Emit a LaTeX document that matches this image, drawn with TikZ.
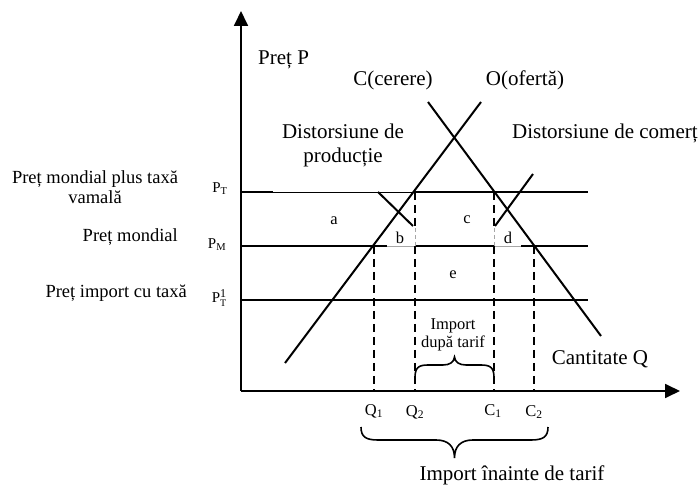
\documentclass[tikz,border=0pt]{standalone}
\usepackage{fontspec}
\setmainfont{Liberation Serif}
\usetikzlibrary{arrows.meta}
\newcommand\fbig{\fontsize{21}{24}\selectfont}
\newcommand\fmid{\fontsize{18.5}{20}\selectfont}
\newcommand\fsm{\fontsize{16.5}{18}\selectfont}
\newcommand\fpl{\fontsize{15}{17}\selectfont}
\begin{document}
\begin{tikzpicture}[x=1pt,y=-1pt,
  axis/.style={line width=1.8pt,-{Triangle[length=15pt,width=14pt]}},
  curve/.style={line width=2pt},
  level/.style={line width=1.5pt},
  thinblk/.style={line width=0.9pt},
  thinlvl/.style={line width=0.8pt,black!35},
  guide/.style={line width=1.6pt,dash pattern=on 8pt off 5pt},
  thinguide/.style={line width=0.8pt,black!35,dash pattern=on 4pt off 3pt},
  brace/.style={line width=1.6pt},
  big/.style={font=\fbig,inner sep=0pt,align=center},
  mid/.style={font=\fmid,inner sep=0pt,align=center},
  small/.style={font=\fsm,inner sep=0pt,align=center},
  plab/.style={font=\fpl,inner sep=0pt}]
\useasboundingbox (0,0) rectangle (699,486);

% axes
\coordinate (O) at (241,391);
\coordinate (Ytop) at (241,11);
\coordinate (Xend) at (680,391);
\draw[axis] (O) -- (Ytop);
\draw[axis] (O) -- (Xend);

% key points
\coordinate (T0) at (241,192);
\coordinate (Ta) at (273,192);
\coordinate (Q2T) at (415,192);
\coordinate (C1T) at (494,192);
\coordinate (TE) at (588,192);
\coordinate (M0) at (241,246);
\coordinate (Mg1) at (387,246);
\coordinate (Q1M) at (374,246);
\coordinate (Q2M) at (415,246);
\coordinate (C1M) at (494,246);
\coordinate (Mg2) at (521,246);
\coordinate (C2M) at (534,246);
\coordinate (ME) at (588,246);
\coordinate (I0) at (241,300);
\coordinate (IE) at (588,300);
\coordinate (Q1B) at (374,391);
\coordinate (Q2B) at (415,391);
\coordinate (C1B) at (494,391);
\coordinate (C2B) at (534,391);
\coordinate (Q2g) at (415,228);
\coordinate (C1g) at (494,228);

% price levels
\draw[level] (T0) -- (Ta);
\draw[thinblk] (Ta) -- (Q2T);
\draw[level] (Q2T) -- (TE);
\draw[level] (M0) -- (Mg1);
\draw[thinlvl] (Mg1) -- (Q2M);
\draw[level] (Q2M) -- (C1M);
\draw[thinlvl] (C1M) -- (Mg2);
\draw[level] (Mg2) -- (ME);
\draw[level] (I0) -- (IE);

% supply and demand
\coordinate (S0) at (285,363);
\coordinate (S1) at (481,102);
\coordinate (D0) at (428,102);
\coordinate (D1) at (601,336);
\draw[curve] (S0) -- (S1);
\draw[curve] (D0) -- (D1);

% distortion strokes
\coordinate (L0) at (378,192);
\coordinate (L1) at (413,226);
\coordinate (R0) at (495,226);
\coordinate (R1) at (533,174);
\draw[curve] (L0) -- (L1);
\draw[curve] (R0) -- (R1);

% dashed guides
\draw[guide] (Q2T) -- (Q2g);
\draw[thinguide] (Q2g) -- (Q2M);
\draw[guide] (Q2M) -- (Q2B);
\draw[guide] (C1T) -- (C1g);
\draw[thinguide] (C1g) -- (C1M);
\draw[guide] (C1M) -- (C1B);
\draw[guide] (Q1M) -- (Q1B);
\draw[guide] (C2M) -- (C2B);

% braces
\draw[brace] (415,378) .. controls (415,368) and (418,365) .. (428,365) -- (443,365)
  .. controls (450,365) and (454,362) .. (454.5,357)
  .. controls (455,362) and (459,365) .. (466,365) -- (481,365)
  .. controls (491,365) and (494,368) .. (494,378);
\draw[brace] (361,427) .. controls (361,437) and (366,440) .. (378,440) -- (436,440)
  .. controls (448,440) and (454.5,446) .. (454.5,458)
  .. controls (454.5,446) and (461,440) .. (473,440) -- (531,440)
  .. controls (543,440) and (548,437) .. (548,427);

% labels
\node[big,anchor=west] (pret) at (258,60) {Preț P};
\node[big] (cer) at (393,80) {C(cerere)};
\node[big] (ofe) at (525,80) {O(ofertă)};
\node[big] (dprod) at (343,145) {Distorsiune de\\producție};
\node[big,anchor=west] (dcom) at (512,133) {Distorsiune de comerț};
\node[big] (cant) at (600,359) {Cantitate Q};
\node[big] (impi) at (512,475) {Import înainte de tarif};
\node[small] (impd) at (453,335) {Import\\după tarif};

\node[mid] (lpt) at (95,187) {Preț mondial plus taxă\\vamală};
\node[mid,anchor=east] (lpm) at (178,237) {Preț mondial};
\node[mid,anchor=east] (lpi) at (187,293) {Preț import cu taxă};

\node[plab] (pt) at (220,189) {P\textsubscript{T}};
\node[plab] (pm) at (217,245) {P\textsubscript{M}};
\node[plab] (pt1) at (219,298) {P\rlap{\raisebox{4.5pt}{\fontsize{12}{12}\selectfont 1}}\raisebox{-4pt}{\fontsize{10}{10}\selectfont T}};

\node[small] (la) at (334,221) {a};
\node[small] (lb) at (400,238) {b};
\node[small] (lc) at (467,220) {c};
\node[small] (ld) at (508,238) {d};
\node[small] (le) at (453,275) {e};

\node[small] (q1) at (374,411) {Q\textsubscript{1}};
\node[small] (q2) at (415,412) {Q\textsubscript{2}};
\node[small] (c1) at (493,411) {C\textsubscript{1}};
\node[small] (c2) at (534,412) {C\textsubscript{2}};
\end{tikzpicture}
\end{document}
